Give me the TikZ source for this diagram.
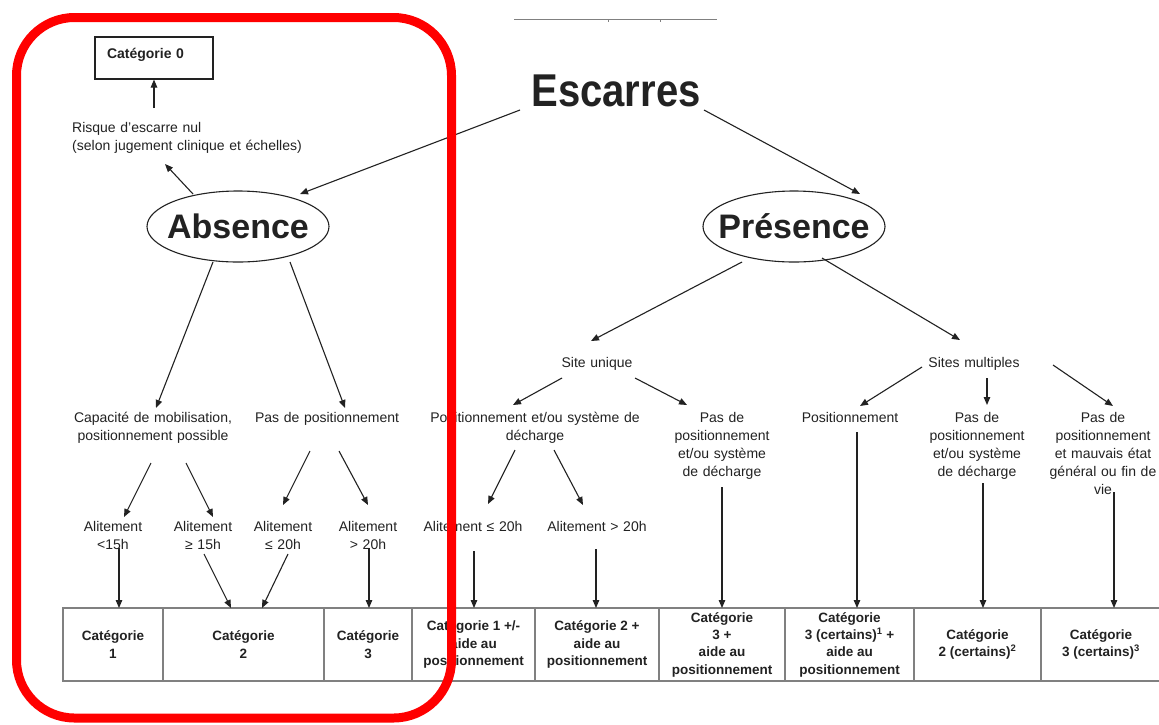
\documentclass[tikz,border=0pt]{standalone}
\usepackage{fontspec}
\setmainfont{Liberation Sans}
\usepackage{graphicx}
\usetikzlibrary{arrows.meta,shapes.geometric,calc}
\definecolor{ink}{HTML}{222222}
\definecolor{tablegray}{HTML}{808080}
\definecolor{framered}{HTML}{FF0000}
\begin{document}
\begin{tikzpicture}[x=1pt,y=-1pt,
  txt/.style={font=\fontsize{14}{18}\selectfont, text=ink, align=center, text width=240, inner sep=0, anchor=base},
  arr/.style={draw=ink, line width=1.1, -{Triangle[length=8pt,width=6.5pt]}},
  oval/.style={ellipse, draw=ink, line width=1.1, minimum width=182, minimum height=71, inner sep=0, font=\fontsize{34}{34}\selectfont\bfseries, text=ink},
  cell/.style={draw=tablegray, line width=1.3, minimum height=73, inner sep=0, align=center, font=\fontsize{13.5}{17.3}\selectfont\bfseries, text=ink}]
\useasboundingbox (0,0) rectangle (1159,724);
\fill[white] (0,0) rectangle (1159,724);

% cropped top rule
\draw[tablegray, line width=0.8] (514,19) -- (717,19);
\draw[tablegray, line width=0.8] (608,19) -- (608,21.5) (660,19) -- (660,21.5);

% main nodes
\node[inner sep=0, anchor=base, text=ink, font=\fontsize{46}{46}\selectfont\bfseries] (esc) at (616,106) {\scalebox{0.87}[1]{Escarres}};
\node[oval] (abs) at (238,226.5) {\makebox[0pt]{Absence}};
\node[oval] (pre) at (794,226.5) {\makebox[0pt]{Présence}};

\node[draw=ink, line width=1.1, minimum height=42, text width=94, inner xsep=12, inner ysep=0, text height=8, text depth=8, align=left, font=\fontsize{14}{18}\selectfont\bfseries, text=ink] (cat0) at (154,58) {Catégorie 0};
\node[txt, text width=250, align=left, anchor=base west] (risk) at (72,132) {Risque d’escarre nul\\(selon jugement clinique et échelles)};

% left branch
\node[txt] (cap) at (153,422) {Capacité de mobilisation,\\positionnement possible};
\node[txt] (pdp) at (327,422) {Pas de positionnement};
\node[txt] (a1) at (113,531) {Alitement\\<15h};
\node[txt] (a2) at (203,531) {Alitement\\≥ 15h};
\node[txt] (a3) at (283,531) {Alitement\\≤ 20h};
\node[txt] (a4) at (368,531) {Alitement\\> 20h};

% right branch
\node[txt] (su) at (597,367) {Site unique};
\node[txt] (sm) at (974,367) {Sites multiples};
\node[txt] (ped) at (535,422) {Positionnement et/ou système de\\décharge};
\node[txt] (pdp2) at (722,422) {Pas de\\positionnement\\et/ou système\\de décharge};
\node[txt] (a5) at (473,531) {Alitement ≤ 20h};
\node[txt] (a6) at (597,531) {Alitement > 20h};
\node[txt] (pos) at (850,422) {Positionnement};
\node[txt] (pdp3) at (977,422) {Pas de\\positionnement\\et/ou système\\de décharge};
\node[txt] (pdp4) at (1103,422) {Pas de\\positionnement\\et mauvais état\\général ou fin de\\vie};

% table
\node[cell, minimum width=100] (c1) at (113,644.5) {Catégorie\\1};
\node[cell, minimum width=161] (c2) at (243.5,644.5) {Catégorie\\2};
\node[cell, minimum width=88] (c3) at (368,644.5) {Catégorie\\3};
\node[cell, minimum width=123] (c4) at (473.5,644.5) {Catégorie 1 +/-\\aide au\\positionnement};
\node[cell, minimum width=124] (c5) at (597,644.5) {Catégorie 2 +\\aide au\\positionnement};
\node[cell, minimum width=126] (c6) at (722,644.5) {Catégorie\\3 +\\aide au\\positionnement};
\node[cell, minimum width=129] (c7) at (849.5,644.5) {Catégorie\\3 (certains)\textsuperscript{1} +\\aide au\\positionnement};
\node[cell, minimum width=127] (c8) at (977.5,644.5) {Catégorie\\2 (certains)\textsuperscript{2}};
\node[cell, minimum width=120] (c9) at (1101,644.5) {Catégorie\\3 (certains)\textsuperscript{3}};

% connectors
\draw[arr] ($(esc.base)+(-96,4)$) -- ($(abs.center)+(62,-32.5)$);
\draw[arr] ($(esc.base)+(88,4)$) -- ($(pre.center)+(66,-32.5)$);
\draw[arr] ($(abs.center)+(-45,-32.5)$) -- ($(risk.base west)+(93,32)$);
\draw[arr] ($(risk.base west)+(82,-24)$) -- (cat0.south);

\draw[arr] ($(abs.center)+(-25,35.5)$) -- ($(cap.base)+(3,-14)$);
\draw[arr] ($(abs.center)+(52,35.5)$) -- ($(pdp.base)+(18,-14)$);
\draw[arr] ($(cap.base)+(-2,41)$) -- ($(a1.base)+(11,-14)$);
\draw[arr] ($(cap.base)+(33,41)$) -- ($(a2.base)+(10,-14)$);
\draw[arr] ($(pdp.base)+(-17,29)$) -- ($(a3.base)+(0,-26)$);
\draw[arr] ($(pdp.base)+(12,29)$) -- ($(a4.base)+(0,-26)$);
\draw[arr] ($(a1.base)+(6,17)$) -- ($(c1.center)+(6,-36.5)$);
\draw[arr] ($(a2.base)+(1,23)$) -- ($(c2.center)+(-12.5,-36.5)$);
\draw[arr] ($(a3.base)+(5,23)$) -- ($(c2.center)+(18.5,-36.5)$);
\draw[arr] ($(a4.base)+(1,17)$) -- ($(c3.center)+(1,-36.5)$);

\draw[arr] ($(pre.center)+(-52,35.5)$) -- ($(su.base)+(-6,-26)$);
\draw[arr] ($(pre.center)+(28,31.5)$) -- ($(sm.base)+(-14,-27)$);
\draw[arr] ($(su.base)+(-35,11)$) -- ($(ped.base)+(-22,-17)$);
\draw[arr] ($(su.base)+(38,11)$) -- ($(pdp2.base)+(-35,-17)$);
\draw[arr] ($(ped.base)+(-20,28)$) -- ($(a5.base)+(15,-27)$);
\draw[arr] ($(ped.base)+(19,28)$) -- ($(a6.base)+(-14,-26)$);
\draw[arr] ($(a5.base)+(1,20)$) -- ($(c4.center)+(0.5,-36.5)$);
\draw[arr] ($(a6.base)+(-1,18)$) -- ($(c5.center)+(-1,-36.5)$);
\draw[arr] ($(pdp2.base)+(0,65)$) -- ($(c6.center)+(0,-36.5)$);
\draw[arr] ($(sm.base)+(-52,0)$) -- ($(pos.base)+(10,-16)$);
\draw[arr] ($(sm.base)+(13,11)$) -- ($(pdp3.base)+(10,-17)$);
\draw[arr] ($(sm.base)+(79,-2)$) -- ($(pdp4.base)+(10,-16)$);
\draw[arr] ($(pos.base)+(7,10)$) -- ($(c7.center)+(7.5,-36.5)$);
\draw[arr] ($(pdp3.base)+(6,61)$) -- ($(c8.center)+(5.5,-36.5)$);
\draw[arr] ($(pdp4.base)+(11,70)$) -- ($(c9.center)+(13,-36.5)$);

% red highlight frame
\draw[framered, line width=9, rounded corners=58] (16.5,17.5) rectangle (451.5,718);
\end{tikzpicture}
\end{document}
